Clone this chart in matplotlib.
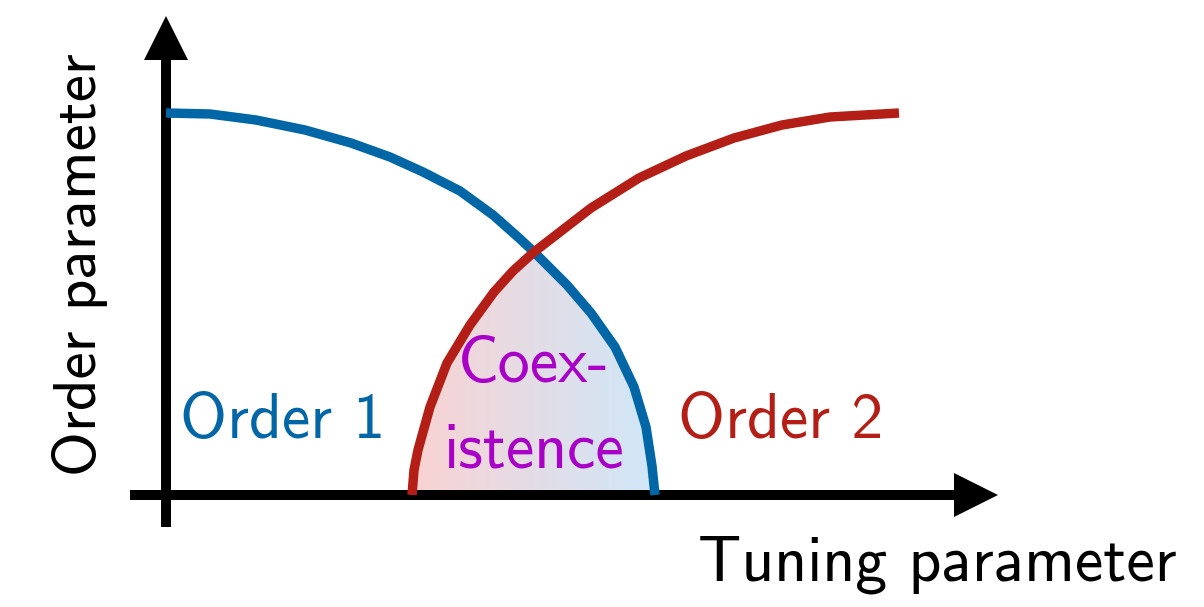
import numpy as np
import matplotlib
matplotlib.use("Agg")
import matplotlib.pyplot as plt
from matplotlib.colors import LinearSegmentedColormap
from matplotlib.patches import FancyArrow, Polygon

# curves (tuning parameter, order parameter)
order1_x = [0.00, 0.44, 0.90, 1.39, 1.85, 2.24, 2.57, 2.94, 3.27, 3.53, 3.68,
            4.01, 4.25, 4.49, 4.68, 4.80, 4.86, 4.89]
order1_y = [3.82, 3.81, 3.75, 3.65, 3.52, 3.38, 3.23, 3.04, 2.80, 2.57, 2.43,
            2.10, 1.82, 1.48, 1.08, 0.68, 0.29, 0.00]
order2_x = [2.46, 2.48, 2.52, 2.64, 2.81, 3.04, 3.28, 3.47, 3.68, 4.25, 4.73, 5.20,
            5.68, 6.16, 6.64, 7.33]
order2_y = [0.00, 0.25, 0.45, 0.88, 1.32, 1.70, 2.03, 2.24, 2.43, 2.87, 3.17, 3.39,
            3.57, 3.70, 3.78, 3.82]
cross_x = 3.68

blue = '#0066a6'
red = '#b31f16'
purple = '#a900c8'
font = 'cmss10'

fig = plt.figure(figsize=(12.04, 6.07), dpi=100)
ax = fig.add_axes([0, 0, 1, 1])
ax.axis('off')

# axes with arrow heads
ax.add_patch(FancyArrow(-0.36, 0, 8.68, 0, width=0.10, head_width=0.44, head_length=0.44,
                        length_includes_head=True, color='black', lw=0, zorder=2))
ax.add_patch(FancyArrow(0, -0.32, 0, 5.11, width=0.10, head_width=0.44, head_length=0.44,
                        length_includes_head=True, color='black', lw=0, zorder=2))

# coexistence region with red->blue gradient
pts = [(x, y) for x, y in zip(order2_x, order2_y) if x <= cross_x]
pts += [(x, y) for x, y in zip(order1_x, order1_y) if x >= cross_x]
poly = Polygon(pts, closed=True, facecolor='none', edgecolor='none')
ax.add_patch(poly)
cmap = LinearSegmentedColormap.from_list('coex', ['#fad2d2', '#e3dde6', '#cfe7f8'])
grad = np.linspace(0, 1, 256).reshape(1, -1)
im = ax.imshow(grad, cmap=cmap, extent=[order2_x[0], order1_x[-1], 0, 3.0],
               aspect='auto', zorder=1, interpolation='bicubic')
im.set_clip_path(poly)
ax.set_xlim(-1.66, 10.38)
ax.set_ylim(-1.12, 4.95)

ax.plot(order1_x, order1_y, color=blue, lw=6.8, solid_capstyle='butt',
        solid_joinstyle='round', zorder=3)
ax.plot(order2_x, order2_y, color=red, lw=6.8, solid_capstyle='butt',
        solid_joinstyle='round', zorder=3)

fs = 46
ax.text(-0.86, 2.30, 'Order parameter', rotation=90, ha='center', va='center',
        fontsize=44, family=font)
ax.text(7.71, -0.85, 'Tuning parameter', ha='center', va='baseline', fontsize=fs, family=font)
ax.text(1.17, 0.57, 'Order 1', ha='center', va='baseline', fontsize=fs, family=font, color=blue)
ax.text(6.15, 0.57, 'Order 2', ha='center', va='baseline', fontsize=fs, family=font, color=red)
ax.text(3.68, 1.13, 'Coex-', ha='center', va='baseline', fontsize=fs, family=font, color=purple)
ax.text(3.68, 0.27, 'istence', ha='center', va='baseline', fontsize=fs, family=font, color=purple)

fig.savefig('out.png', dpi=100)
